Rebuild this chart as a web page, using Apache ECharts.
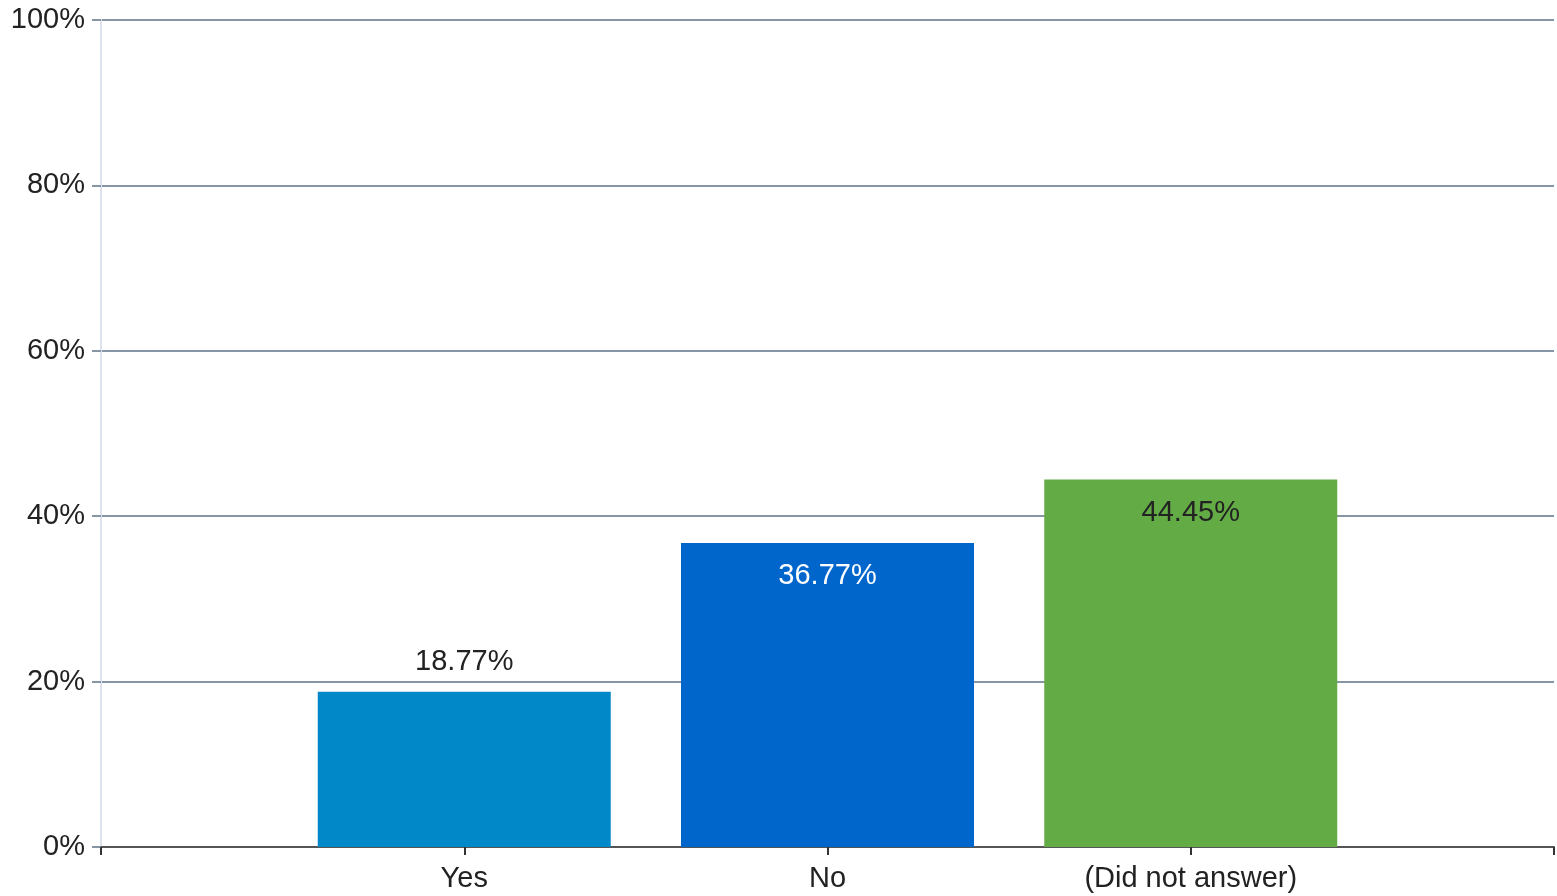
<!DOCTYPE html>
<html>
<head>
<meta charset="utf-8">
<script src="https://cdn.jsdelivr.net/npm/echarts@6/dist/echarts.min.js"></script>
<style>
  html, body { margin: 0; padding: 0; background: #fff; overflow: hidden; }
  #chart { width: 1557px; height: 896px; }
</style>
</head>
<body>
<div id="chart"></div>
<script>
// categories (empty slots on both ends leave the gaps at the edges)
const categories = ['', 'Yes', 'No', '(Did not answer)', ''];
const values = [null, 18.77, 36.77, 44.45, null];
const barColors = ['#0088c9', '#0066cc', '#63ac45'];
const yTicks = [0, 20, 40, 60, 80, 100];

const labelStyles = [
  { position: 'top', distance: 15, color: '#222' },
  { position: 'insideTop', distance: 19, color: '#fff' },
  { position: 'insideTop', distance: 19, color: '#222' },
];

const font = 'Liberation Sans';

const chart = echarts.init(document.getElementById('chart'));

const seriesData = values.map((v, i) => {
  if (v == null) return null;
  const k = i - 1;
  return {
    value: v,
    itemStyle: { color: barColors[k] },
    label: {
      show: true,
      position: labelStyles[k].position,
      distance: labelStyles[k].distance,
      color: labelStyles[k].color,
      fontFamily: font,
      fontSize: 29,
      formatter: (p) => p.value.toFixed(2) + '%',
    },
  };
});

chart.setOption({
  animation: false,
  grid: { left: 101, right: -2, top: 20, bottom: 49 },
  xAxis: {
    type: 'category',
    data: categories,
    boundaryGap: false,
    axisLine: { lineStyle: { color: '#555', width: 2 } },
    axisTick: { show: true, length: 8, lineStyle: { color: '#333', width: 2 } },
    axisLabel: {
      margin: 17,
      color: '#222',
      fontFamily: font,
      fontSize: 29,
      interval: 0,
    },
    splitLine: { show: false },
  },
  yAxis: {
    type: 'value',
    min: yTicks[0],
    max: yTicks[yTicks.length - 1],
    interval: 20,
    axisLine: { show: true, lineStyle: { color: '#dde3ee', width: 2 } },
    axisTick: { show: true, length: 9, lineStyle: { color: '#8796a6', width: 2 } },
    axisLabel: {
      margin: 16,
      color: '#222',
      fontFamily: font,
      fontSize: 29,
      formatter: '{value}%',
    },
    splitLine: { lineStyle: { color: '#8796a6', width: 2 } },
  },
  series: [
    {
      type: 'bar',
      data: seriesData,
      barWidth: 293,
    },
  ],
});
</script>
</body>
</html>
